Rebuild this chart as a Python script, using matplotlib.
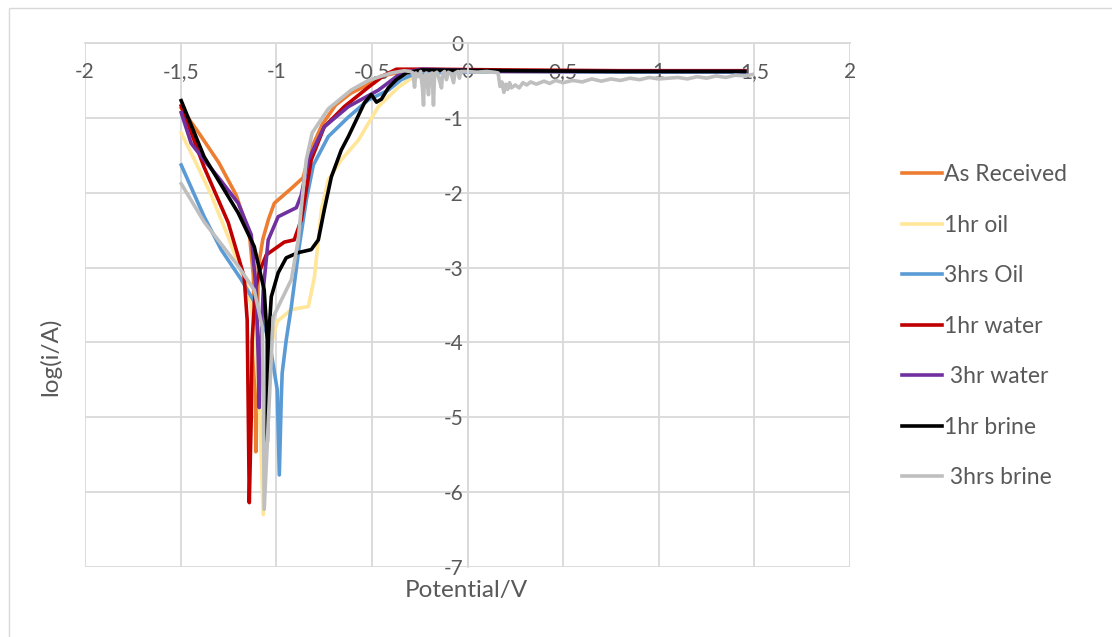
import matplotlib.pyplot as plt
import matplotlib.patches as patches

plt.rcParams['font.family'] = ['Lato', 'DejaVu Sans']
plt.rcParams['axes.unicode_minus'] = False

# Tafel curves: potential (V) and log(i/A) for each sample
as_received_e = [-1.497, -1.40, -1.30, -1.21, -1.14, -1.12, -1.11, -1.107, -1.10, -1.094, -1.07,
                 -1.04, -1.01, -0.92, -0.86, -0.82, -0.76, -0.69, -0.61, -0.53, -0.45, -0.35,
                 -0.20, 0.20, 0.80, 1.45]
as_received_log = [-0.87, -1.22, -1.60, -2.03, -2.56, -3.10, -4.20, -5.46, -4.00, -2.99, -2.62,
                   -2.35, -2.14, -1.94, -1.80, -1.43, -1.09, -0.83, -0.67, -0.57, -0.44, -0.39,
                   -0.37, -0.37, -0.38, -0.38]

oil_1hr_e = [-1.497, -1.42, -1.34, -1.25, -1.147, -1.12, -1.089, -1.068, -1.047, -1.026, -0.995,
             -0.921, -0.832, -0.80, -0.764, -0.728, -0.66, -0.571, -0.466, -0.361, -0.293, -0.19,
             0.20, 0.80, 1.45]
oil_1hr_log = [-1.20, -1.60, -2.03, -2.60, -3.30, -3.70, -4.77, -6.30, -4.77, -4.03, -3.72,
               -3.56, -3.52, -3.12, -2.23, -1.83, -1.56, -1.30, -0.85, -0.59, -0.47, -0.39,
               -0.38, -0.39, -0.39]

oil_3hrs_e = [-1.497, -1.377, -1.288, -1.183, -1.105, -1.037, -0.995, -0.984, -0.974, -0.969,
              -0.948, -0.921, -0.880, -0.843, -0.806, -0.728, -0.623, -0.518, -0.414, -0.346,
              -0.267, 0.20, 0.80, 1.45]
oil_3hrs_log = [-1.63, -2.32, -2.76, -3.16, -3.50, -3.97, -4.63, -5.77, -4.77, -4.41,
                -3.97, -3.52, -2.72, -2.10, -1.63, -1.25, -0.99, -0.76, -0.63, -0.49,
                -0.40, -0.38, -0.39, -0.39]

water_1hr_e = [-1.497, -1.377, -1.251, -1.168, -1.152, -1.147, -1.141, -1.131, -1.126, -1.11,
               -1.089, -1.052, -0.958, -0.906, -0.869, -0.843, -0.817, -0.749, -0.644, -0.518,
               -0.435, -0.372, -0.20, 0.20, 0.80, 1.45]
water_1hr_log = [-0.84, -1.66, -2.40, -3.12, -3.70, -4.77, -6.14, -5.03, -3.97, -3.30,
                 -3.06, -2.83, -2.66, -2.63, -2.36, -1.96, -1.56, -1.12, -0.85, -0.59,
                 -0.43, -0.35, -0.35, -0.36, -0.37, -0.37]

water_3hr_e = [-1.497, -1.445, -1.366, -1.304, -1.199, -1.131, -1.105, -1.094, -1.089, -1.084,
               -1.068, -1.042, -0.990, -0.895, -0.869, -0.832, -0.749, -0.623, -0.466, -0.346,
               -0.241, 0.20, 0.80, 1.45]
water_3hr_log = [-0.93, -1.34, -1.60, -1.79, -2.14, -2.56, -3.30, -4.23, -4.87, -4.23,
                 -3.30, -2.63, -2.32, -2.20, -2.03, -1.56, -1.12, -0.85, -0.63, -0.40,
                 -0.35, -0.38, -0.38, -0.38]

brine_1hr_e = [-1.497, -1.377, -1.199, -1.115, -1.063, -1.047, -1.047, -1.042, -1.037, -1.026,
               -0.990, -0.948, -0.885, -0.817, -0.780, -0.749, -0.712, -0.660, -0.623, -0.539,
               -0.503, -0.476, -0.45, -0.414, -0.372, -0.319, -0.241, 0.20, 0.80, 1.45]
brine_1hr_log = [-0.77, -1.52, -2.27, -2.72, -3.30, -3.97, -5.33, -4.23, -3.83, -3.39,
                 -3.07, -2.87, -2.80, -2.76, -2.63, -2.23, -1.79, -1.43, -1.25, -0.80,
                 -0.69, -0.79, -0.75, -0.60, -0.49, -0.40, -0.36, -0.37, -0.38, -0.38]

brine_3hrs_e = [-1.497, -1.377, -1.199, -1.115, -1.073, -1.068, -1.063, -1.016, -0.921, -0.885,
                -0.869, -0.853, -0.843, -0.812, -0.728, -0.609, -0.518, -0.398, -0.33, -0.30,
                -0.285, -0.277, -0.27, -0.255, -0.245, -0.235, -0.23, -0.225, -0.215, -0.204,
                -0.198, -0.185, -0.178, -0.172, -0.16, -0.15, -0.136, -0.13, -0.12, -0.11,
                -0.10, -0.085, -0.073, -0.065, -0.05, -0.042, -0.035, 0.0, 0.05, 0.10,
                0.14, 0.16, 0.17, 0.18, 0.19, 0.20, 0.21, 0.22, 0.23, 0.25,
                0.27, 0.29, 0.31, 0.33, 0.36, 0.40, 0.43, 0.46, 0.50, 0.55,
                0.60, 0.65, 0.70, 0.75, 0.80, 0.85, 0.90, 0.95, 1.00, 1.05,
                1.10, 1.15, 1.20, 1.25, 1.30, 1.35, 1.40, 1.45, 1.49]
brine_3hrs_log = [-1.88, -2.39, -2.98, -3.30, -3.80, -4.60, -6.23, -3.66, -3.16, -2.63,
                  -2.20, -1.80, -1.56, -1.20, -0.88, -0.63, -0.50, -0.40, -0.37, -0.38,
                  -0.40, -0.59, -0.40, -0.45, -0.38, -0.62, -0.83, -0.45, -0.40, -0.69,
                  -0.42, -0.40, -0.83, -0.41, -0.39, -0.47, -0.60, -0.40, -0.38, -0.49,
                  -0.39, -0.41, -0.53, -0.40, -0.38, -0.47, -0.38, -0.38, -0.39, -0.38,
                  -0.39, -0.40, -0.58, -0.52, -0.66, -0.55, -0.62, -0.53, -0.60, -0.56,
                  -0.60, -0.53, -0.56, -0.52, -0.55, -0.51, -0.54, -0.50, -0.53, -0.50,
                  -0.52, -0.48, -0.51, -0.48, -0.50, -0.47, -0.49, -0.46, -0.48, -0.47,
                  -0.46, -0.48, -0.45, -0.47, -0.44, -0.46, -0.43, -0.44, -0.42]

labels = ['As Received', '1hr oil', '3hrs Oil', '1hr water', ' 3hr water', '1hr brine', ' 3hrs brine']
colors = ['#ED7D31', '#FFE699', '#5B9BD5', '#C00000', '#7030A0', '#000000', '#BFBFBF']
series = [(as_received_e, as_received_log), (oil_1hr_e, oil_1hr_log), (oil_3hrs_e, oil_3hrs_log),
          (water_1hr_e, water_1hr_log), (water_3hr_e, water_3hr_log),
          (brine_1hr_e, brine_1hr_log), (brine_3hrs_e, brine_3hrs_log)]

x_ticks = [-2, -1.5, -1, -0.5, 0, 0.5, 1, 1.5, 2]
x_tick_labels = ['-2', '-1,5', '-1', '-0,5', '0', '0,5', '1', '1,5', '2']
y_ticks = [0, -1, -2, -3, -4, -5, -6, -7]

fig = plt.figure(figsize=(11.12, 6.37), dpi=100)
ax = fig.add_axes([85 / 1112, 1 - 567 / 637, 765 / 1112, 524 / 637])

for (e, lg), lab, col in zip(series, labels, colors):
    ax.plot(e, lg, color=col, lw=2.6, label=lab, solid_joinstyle='round')

ax.set_xlim(-2, 2)
ax.set_ylim(-7, 0)
ax.set_xticks(x_ticks)
ax.set_xticklabels(x_tick_labels)
ax.set_yticks(y_ticks)
ax.grid(True, color='#D9D9D9', lw=1.3)
ax.set_axisbelow(True)

# axes cross at the origin, like the spreadsheet chart
ax.spines['left'].set_position(('data', 0))
ax.spines['bottom'].set_position(('data', 0))
for s in ['left', 'bottom']:
    ax.spines[s].set_color('#D9D9D9')
    ax.spines[s].set_linewidth(1.3)
for s in ['top', 'right']:
    ax.spines[s].set_visible(False)
ax.tick_params(axis='both', length=0, labelsize=15, labelcolor='#595959')
ax.tick_params(axis='x', pad=14)
ax.tick_params(axis='y', pad=3)

fig.text(466 / 1112, 1 - 590 / 637, 'Potential/V', ha='center', va='center', fontsize=17.5, color='#595959')
fig.text(50 / 1112, 1 - 357 / 637, 'log(i/A)', ha='center', va='center', rotation=90, fontsize=17.5,
         color='#595959')

fig.legend(loc='upper left', bbox_to_anchor=(902 / 1112, 1 - 164 / 637), frameon=False,
           fontsize=16.5, labelcolor='#595959', handlelength=1.75, handletextpad=0.08,
           labelspacing=1.29, borderpad=0, borderaxespad=0)

fig.patches.append(patches.Rectangle((9 / 1112, -0.1), 1.2, 1.1 - 8 / 637, transform=fig.transFigure,
                                     fill=False, edgecolor='#D9D9D9', lw=1))

fig.savefig('out.png', dpi=100)
